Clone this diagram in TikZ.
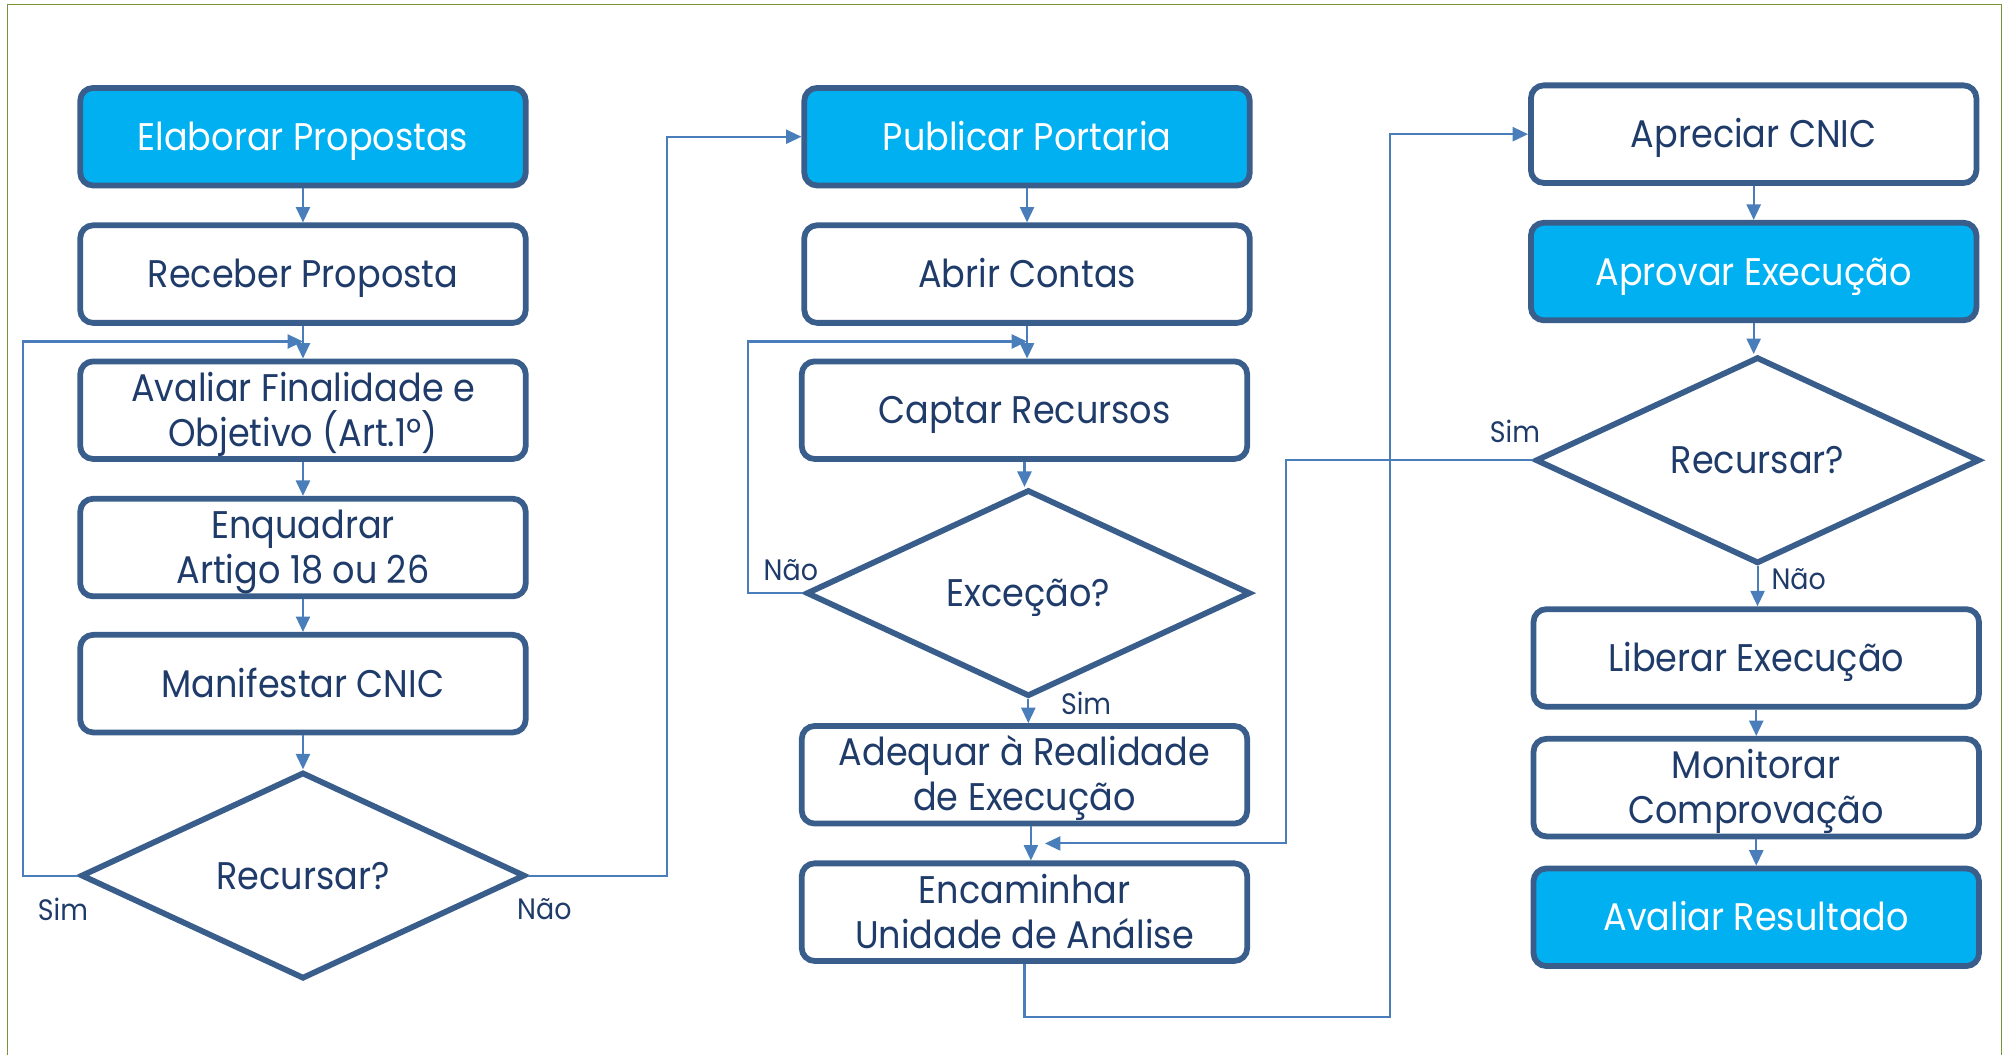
\documentclass[tikz,border=0pt]{standalone}
\usepackage{fontspec}
\setmainfont[FakeStretch=0.91]{Poppins}
\usetikzlibrary{shapes.geometric,arrows.meta}
\definecolor{boxline}{HTML}{3A5E8C}
\definecolor{boxfill}{HTML}{00B0F0}
\definecolor{txtblue}{HTML}{1F3B6A}
\definecolor{linkblue}{HTML}{4A7EBB}
\definecolor{framegreen}{HTML}{77933C}
\tikzset{
  etapa/.style={draw=boxline,line width=4.5pt,rounded corners=10pt,fill=white,text=txtblue,
    minimum width=347pt,minimum height=76pt,inner sep=0pt,align=center,font=\fontsize{30}{35}\selectfont,
    execute at begin node={\rule{0pt}{29pt}},execute at end node={\rule[-8pt]{0pt}{8pt}}},
  etapacor/.style={etapa,fill=boxfill,text=white},
  duas/.style={execute at begin node={\rule{0pt}{64pt}}},
  decisao/.style={draw=boxline,line width=4.5pt,diamond,aspect=2.15,fill=white,text=txtblue,
    minimum width=346pt,minimum height=161pt,inner sep=0pt,font=\fontsize{30}{35}\selectfont,
    execute at begin node={\rule{0pt}{29pt}},execute at end node={\rule[-8pt]{0pt}{8pt}}},
  liga/.style={draw=linkblue,line width=1.6pt,-{Triangle[length=12pt,width=11pt]}},
  rotulo/.style={text=txtblue,font=\fontsize{23}{26}\selectfont}
}
\begin{document}
\begin{tikzpicture}[x=1pt,y=-1pt]
\useasboundingbox (0,0) rectangle (1568,822);
\draw[framegreen,line width=1.2pt] (6,822) -- (6,3.5) -- (1559,3.5) -- (1559,822);

\node[etapacor] (e1) at (236,106.5) {Elaborar Propostas};
\node[etapa] (r1) at (236,213.5) {Receber Proposta};
\node[etapa,duas] (a1) at (236,319.5) {Avaliar Finalidade e\\Objetivo (Art.1º)};
\node[etapa,duas] (q1) at (236,426.5) {Enquadrar\\Artigo 18 ou 26};
\node[etapa] (m1) at (236,532.5) {Manifestar CNIC};
\node[decisao] (d1) at (236,682) {Recursar?};

\node[etapacor] (p2) at (800,106.5) {Publicar Portaria};
\node[etapa] (ab2) at (800,213.5) {Abrir Contas};
\node[etapa] (c2) at (798,319.5) {Captar Recursos};
\node[decisao] (x2) at (801,462) {Exceção?};
\node[etapa,duas] (ad2) at (798,603.5) {Adequar à Realidade\\de Execução};
\node[etapa,duas] (en2) at (798,710.5) {Encaminhar\\Unidade de Análise};

\node[etapa] (ap3) at (1366,104.5) {Apreciar CNIC};
\node[etapacor] (av3) at (1366,211.5) {Aprovar Execução};
\node[decisao] (d3) at (1369,358.5) {Recursar?};
\node[etapa] (l3) at (1368,512.5) {Liberar Execução};
\node[etapa,duas] (mo3) at (1368,613.5) {Monitorar\\Comprovação};
\node[etapacor] (ar3) at (1368,714.5) {Avaliar Resultado};

\coordinate (k1) at (18,266);
\coordinate (k3) at (583,266);
\coordinate (k4) at (1083,792);
\coordinate (k5) at (814,657);

\draw[liga] (e1) -- (r1);
\draw[liga] (r1) -- (a1);
\draw[liga] (a1) -- (q1);
\draw[liga] (q1) -- (m1);
\draw[liga] (m1) -- (d1);
\draw[liga] (d1.west) -| (k1) -- (a1.north |- k1);
\draw[liga] (d1.east) -- ++(108,0) |- (p2.west);

\draw[liga] (p2) -- (ab2);
\draw[liga] (ab2.south) -- (ab2.south |- c2.north);
\draw[liga] (c2.south) -- (c2.south |- x2.north);
\draw[liga] (x2.south) -- (x2.south |- ad2.north);
\draw[liga] ([xshift=5pt]ad2.south) -- ([xshift=5pt]en2.north);
\draw[liga] (x2.west) -| (k3) -- (ab2.south |- k3);
\draw[liga] (en2.south) |- (k4) |- (ap3.west);

\draw[liga] (ap3) -- (av3);
\draw[liga] (av3.south) -- (av3.south |- d3.north);
\draw[liga] (d3.south) -- (d3.south |- l3.north);
\draw[liga] (l3) -- (mo3);
\draw[liga] (mo3) -- (ar3);
\draw[liga] (d3.west) -- ++(-192,0) |- (k5);

\node[rotulo] (s1) at (49,708) {Sim};
\node[rotulo] (n1) at (424,708) {Não};
\node[rotulo] (n2) at (616,444) {Não};
\node[rotulo] (s2) at (846,548) {Sim};
\node[rotulo] (s3) at (1180,336) {Sim};
\node[rotulo] (n3) at (1401,451) {Não};
\end{tikzpicture}
\end{document}
